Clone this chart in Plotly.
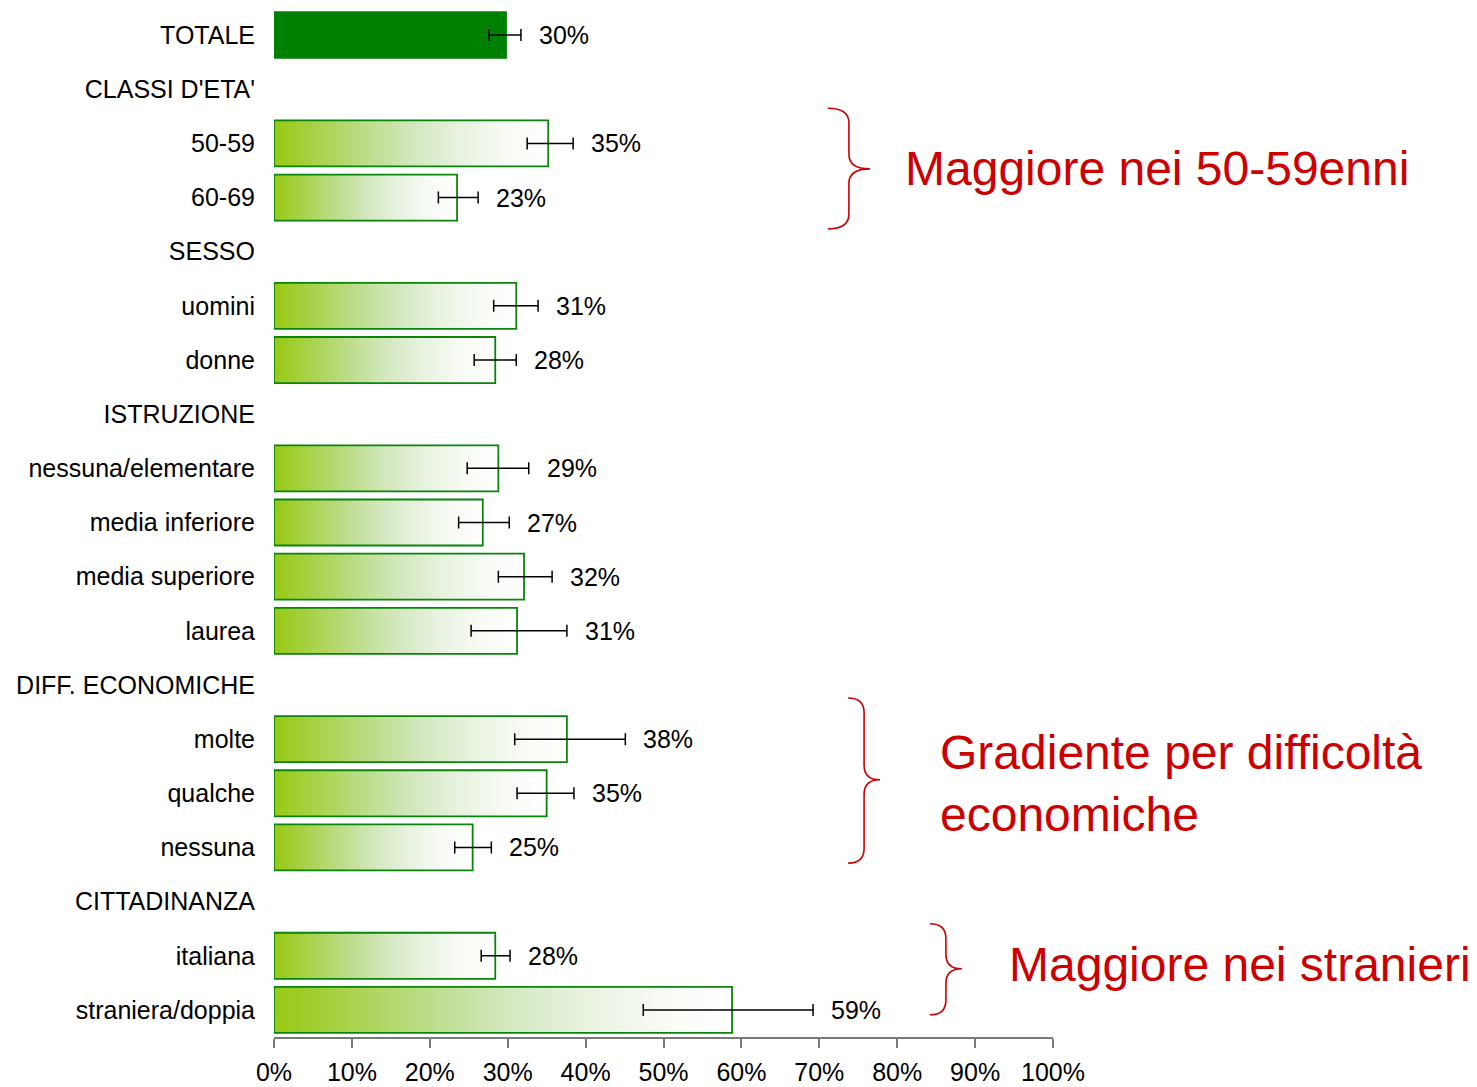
import plotly.graph_objects as go

# ---------------- data ----------------
categories = ["TOTALE", "CLASSI D'ETA'", "50-59", "60-69", "SESSO", "uomini", "donne",
              "ISTRUZIONE", "nessuna/elementare", "media inferiore", "media superiore", "laurea",
              "DIFF. ECONOMICHE", "molte", "qualche", "nessuna",
              "CITTADINANZA", "italiana", "straniera/doppia"]
values = [29.8, None, 35.2, 23.5, None, 31.1, 28.4, None, 28.8, 26.8, 32.1, 31.2,
          None, 37.6, 35.0, 25.5, None, 28.4, 58.8]
err_low = [27.6, None, 32.5, 21.1, None, 28.2, 25.7, None, 24.8, 23.7, 28.8, 25.3,
           None, 30.9, 31.2, 23.2, None, 26.6, 47.4]
err_high = [31.7, None, 38.4, 26.2, None, 33.9, 31.1, None, 32.7, 30.2, 35.7, 37.6,
            None, 45.1, 38.5, 27.9, None, 30.3, 69.2]
value_labels = ["30%", "", "35%", "23%", "", "31%", "28%", "", "29%", "27%", "32%", "31%",
                "", "38%", "35%", "25%", "", "28%", "59%"]
x_ticks = [0, 10, 20, 30, 40, 50, 60, 70, 80, 90, 100]
x_tick_labels = ["0%", "10%", "20%", "30%", "40%", "50%", "60%", "70%", "80%", "90%", "100%"]

# annotations: text, and the rows (first, last) the brace spans
note_texts = ["Maggiore nei 50-59enni", "Gradiente per difficoltà<br>economiche", "Maggiore nei stranieri"]
note_rows = [(2, 3), (13, 15), (17, 18)]

# ---------------- style ----------------
FONT = "Liberation Sans, Arial, Helvetica, sans-serif"
GREEN = "#0a840a"
RED = "#cc0000"
HALF = 0.425
gradient_scale = [[0.0, "#97c912"], [0.33, "#bcdc88"], [0.5, "#d2e7bc"],
                  [0.67, "#e7f2df"], [0.85, "#f8fbf5"], [1.0, "#ffffff"]]

fig = go.Figure()

rows = list(range(len(categories)))
for i, v in enumerate(values):
    if v is None:
        continue
    xs = [0, v, v, 0, 0]
    ys = [i - HALF, i - HALF, i + HALF, i + HALF, i - HALF]
    tr = dict(x=xs, y=ys, mode="lines", fill="toself",
              line=dict(color=GREEN, width=1.8), hoverinfo="skip", showlegend=False)
    if i == 0:
        tr["fillcolor"] = "#008000"
        tr["line"] = dict(color="#008000", width=1.5)
    else:
        tr["fillgradient"] = dict(type="horizontal", colorscale=gradient_scale)
    fig.add_trace(go.Scatter(**tr))

# error bars
ex, ey, eplus, eminus = [], [], [], []
for i, v in enumerate(values):
    if v is None:
        continue
    ex.append(v)
    ey.append(i)
    eplus.append(err_high[i] - v)
    eminus.append(v - err_low[i])
fig.add_trace(go.Scatter(
    x=ex, y=ey, mode="markers", marker=dict(size=1, opacity=0),
    error_x=dict(type="data", array=eplus, arrayminus=eminus, symmetric=False,
                 color="black", thickness=1.5, width=6),
    hoverinfo="skip", showlegend=False))

# value labels
for i, t in enumerate(value_labels):
    if not t:
        continue
    fig.add_annotation(x=err_high[i], y=i, text=t, xanchor="left", yanchor="middle",
                       xshift=16, showarrow=False,
                       font=dict(family=FONT, size=25, color="black"))

# braces + red notes
brace_x = [(71.1, 76.5), (73.7, 77.8), (84.2, 88.3)]
brace_ext = [(0.65, 0.58, 2.47), (0.76, 0.29, 13.75), (0.59, 0.09, 17.24)]
note_x = [80.7, 85.3, 94.1]
note_y = [2.47, 13.81, 17.17]
for k, text in enumerate(note_texts):
    r0, r1 = note_rows[k]
    up, dn, ym = brace_ext[k]
    y0 = r0 - up
    y1 = r1 + dn
    x0, xt = brace_x[k]
    xv = x0 + 0.5 * (xt - x0)
    rr = 0.27
    path = (f"M {x0},{y0} Q {xv},{y0} {xv},{y0 + rr} L {xv},{ym - rr} "
            f"Q {xv},{ym} {xt},{ym} Q {xv},{ym} {xv},{ym + rr} "
            f"L {xv},{y1 - rr} Q {xv},{y1} {x0},{y1}")
    fig.add_shape(type="path", path=path, xref="x", yref="y",
                  line=dict(color=RED, width=1.6))
    fig.add_annotation(x=note_x[k], y=note_y[k], text=text, xanchor="left", yanchor="middle",
                       align="left", showarrow=False,
                       font=dict(family=FONT, size=48, color=RED))

fig.update_layout(
    width=1469, height=1079,
    margin=dict(l=266, r=424, t=0, b=50, autoexpand=False),
    paper_bgcolor="white", plot_bgcolor="white",
    font=dict(family=FONT, size=25, color="black"),
    showlegend=False,
)
fig.update_xaxes(range=[0, 100], tickvals=x_ticks, ticktext=x_tick_labels, automargin=False,
                 showgrid=False, zeroline=False, showline=True, linecolor="#7a7a7a",
                 linewidth=1.5, ticks="outside", ticklen=9, tickcolor="#7a7a7a", tickwidth=1.5,
                 tickfont=dict(family=FONT, size=25, color="black"), ticklabelstandoff=3)
fig.update_yaxes(range=[len(categories) - 0.5, -0.5], tickvals=rows, ticktext=categories,
                 automargin=False,
                 showgrid=False, zeroline=False, showline=False, ticks="",
                 tickfont=dict(family=FONT, size=25, color="black"), ticklabelstandoff=18)

fig.write_html("out.html")
